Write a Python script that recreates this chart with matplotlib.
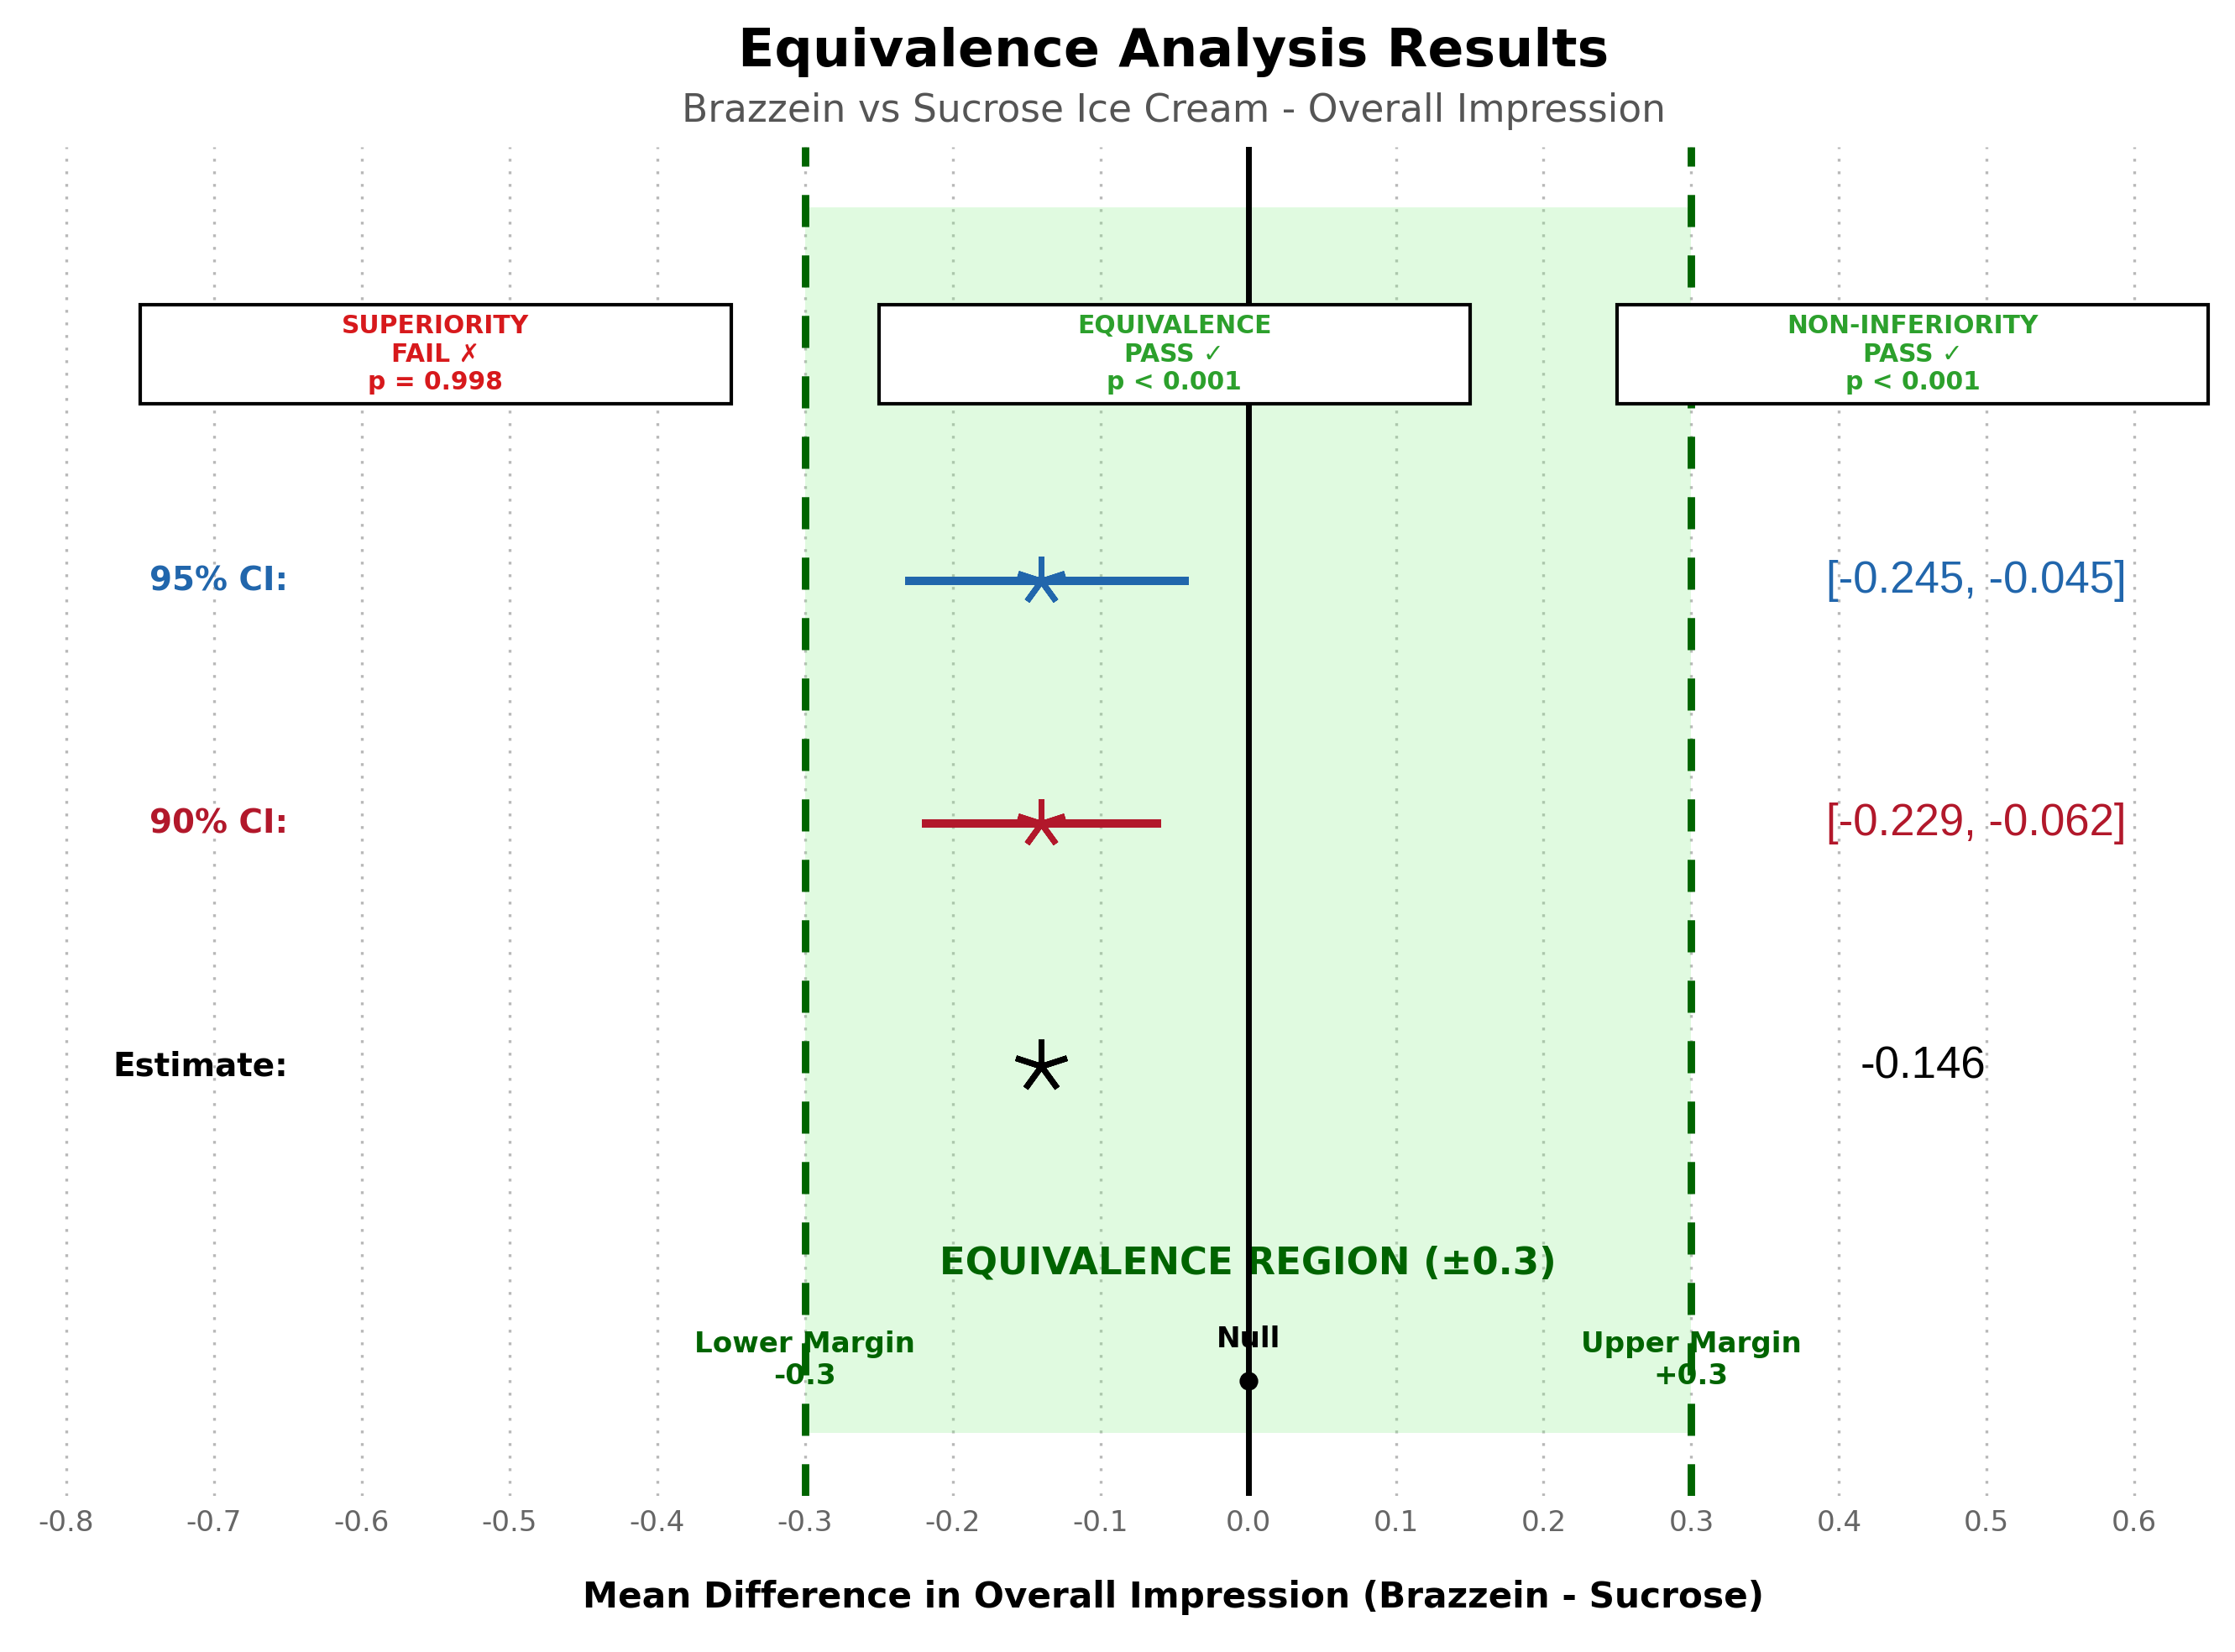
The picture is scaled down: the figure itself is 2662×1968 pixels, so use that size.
import numpy as np
import matplotlib
matplotlib.use("Agg")
import matplotlib.pyplot as plt
from matplotlib.patches import Rectangle

# values
row_names = ['95% CI:', '90% CI:', 'Estimate:']
row_y = [3, 2, 1]
row_colors = ['#2166ac', '#b2182b', 'black']
ci_lower = [-0.232, -0.221]
ci_upper = [-0.040, -0.059]
point_est = -0.140
ci_text = ['[-0.245, -0.045]', '[-0.229, -0.062]']
est_text = '-0.146'
margin = 0.3

tests = ['SUPERIORITY', 'EQUIVALENCE', 'NON-INFERIORITY']
test_result = ['FAIL \u2717', 'PASS \u2713', 'PASS \u2713']
test_p = ['p = 0.998', 'p < 0.001', 'p < 0.001']
test_colors = ['#d7191c', '#2ca02c', '#2ca02c']
test_x = [-0.55, -0.05, 0.45]
box_w = 0.4

xticks = [-0.8, -0.7, -0.6, -0.5, -0.4, -0.3, -0.2, -0.1, 0.0, 0.1, 0.2, 0.3, 0.4, 0.5, 0.6]

fig = plt.figure(figsize=(13.31, 9.84), dpi=200)
ax = fig.add_axes([-0.00338, 0.09451, 1.05755, 0.81657])
ax.set_xlim(-0.85, 0.75)
ax.set_ylim(-0.77, 4.79)

# equivalence region
ax.fill_betweenx([-0.51, 4.54], -margin, margin, color='lightgreen', alpha=0.28, lw=0, zorder=1)
for m in (-margin, margin):
    ax.axvline(m, color='darkgreen', lw=3.2, ls=(0, (4.3, 3.8)), zorder=2)
ax.axvline(0, color='black', lw=2.5, zorder=4)

# confidence intervals and estimate
for i in range(2):
    ax.plot([ci_lower[i], ci_upper[i]], [row_y[i], row_y[i]], color=row_colors[i],
            lw=3.6, solid_capstyle='butt', zorder=4)
    ax.plot(point_est, row_y[i], marker=(5, 2, 0), ms=21, mew=2.5,
            color=row_colors[i], zorder=5)
    ax.text(0.493, row_y[i], ci_text[i], color=row_colors[i], fontsize=19,
            family='Liberation Sans', ha='center', va='center')
ax.plot(point_est, row_y[2], marker=(5, 2, 0), ms=23, mew=2.5, color='black', zorder=5)
ax.text(0.457, row_y[2], est_text, color='black', fontsize=19,
        family='Liberation Sans', ha='center', va='center')

for name, y, c in zip(row_names, row_y, row_colors):
    ax.text(-0.65, y, name, color=c, fontsize=14, fontweight='bold', ha='right', va='center')

# test result boxes
for x, t, r, p, c in zip(test_x, tests, test_result, test_p, test_colors):
    ax.add_patch(Rectangle((x - box_w / 2, 3.73), box_w, 0.41, facecolor='white',
                           edgecolor='black', lw=1.5, zorder=5))
    ax.text(x, 3.935, f'{t}\n{r}\n{p}', color=c, fontsize=10.7, fontweight='bold',
            ha='center', va='center', zorder=6)

# region annotations
ax.text(0, 0.187, f'EQUIVALENCE REGION (\u00b1{margin})', color='darkgreen',
        fontsize=16.2, fontweight='bold', ha='center', va='center', zorder=3)
ax.text(-margin, -0.21, f'Lower Margin\n-{margin}', color='darkgreen', fontsize=12.3,
        fontweight='bold', ha='center', va='center', zorder=3)
ax.text(margin, -0.21, f'Upper Margin\n+{margin}', color='darkgreen', fontsize=12.3,
        fontweight='bold', ha='center', va='center', zorder=3)
ax.text(0, -0.124, 'Null', color='black', fontsize=12.3, fontweight='bold',
        ha='center', va='center', zorder=3)
ax.plot(0, -0.297, 'o', color='black', ms=7, zorder=5)

ax.set_xticks(xticks)
ax.set_xticklabels([f'{v:.1f}' for v in xticks])
ax.set_yticks([])
ax.tick_params(axis='x', length=0, pad=5.8, labelsize=12.3, labelcolor='#666666')
ax.grid(axis='x', color='#b8b8b8', lw=1.2, ls=(0, (1, 3.5)), zorder=0)
ax.set_axisbelow(True)
for s in ax.spines.values():
    s.set_visible(False)

cx = 1398 / 2662
fig.text(cx, 0.95986, 'Equivalence Analysis Results', fontsize=22.8, fontweight='bold',
         ha='center', va='baseline')
fig.text(cx, 0.92632, 'Brazzein vs Sucrose Ice Cream - Overall Impression', fontsize=16.4,
         color='#555555', ha='center', va='baseline')
fig.text(cx, 0.02693, 'Mean Difference in Overall Impression (Brazzein - Sucrose)',
         fontsize=15.2, fontweight='bold', ha='center', va='baseline')

fig.savefig('out.png', dpi=200)
